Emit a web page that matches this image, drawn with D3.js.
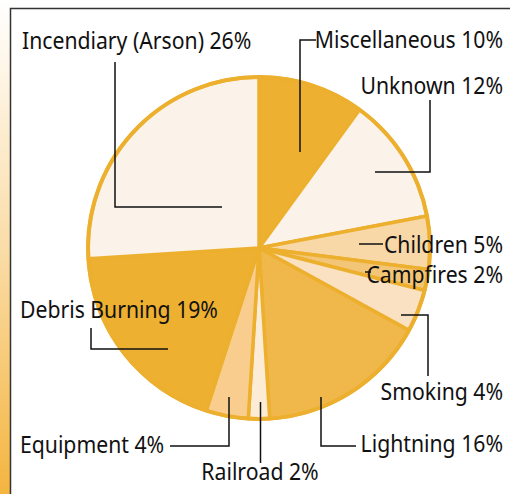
<!DOCTYPE html>
<html><head><meta charset="utf-8">
<script src="https://cdn.jsdelivr.net/npm/d3@7"></script>
<style>body{margin:0;background:#fff;} svg{display:block;}</style>
</head><body>
<svg id="c" width="510" height="494"></svg>
<script>
const categories = ["Miscellaneous","Unknown","Children","Campfires","Smoking","Lightning","Railroad","Equipment","Debris Burning","Incendiary (Arson)"];
const values = [10,12,5,2,4,16,2,4,19,26];
const colors = ["#EEB030","#FBF3E9","#F7D8A6","#F3C677","#F9E1C2","#F0B84A","#FCEBD5","#F8CD8E","#EEB030","#FBF3E9"];
const labels = ["Miscellaneous 10%","Unknown 12%","Children 5%","Campfires 2%","Smoking 4%","Lightning 16%","Railroad 2%","Equipment 4%","Debris Burning 19%","Incendiary (Arson) 26%"];
// label anchor positions and leader paths (layout)
const labelPos = [
  {x:503,y:48,a:"end"},{x:503,y:94,a:"end"},{x:503,y:253,a:"end"},{x:503,y:283,a:"end"},
  {x:503,y:400,a:"end"},{x:503,y:452,a:"end"},{x:260,y:480,a:"middle"},{x:20,y:453,a:"start"},
  {x:20,y:318,a:"start"},{x:22,y:49,a:"start"}];
const leaders = [
  [[316,40],[300,40],[300,152]],
  [[430,100],[430,172],[375,172]],
  [[383,244],[359,244]],
  [[371,272],[365,272]],
  [[401,315],[428,315],[428,376]],
  [[321,397],[321,446],[356,446]],
  [[260.5,402],[260.5,463]],
  [[229,397],[229,446],[170,446]],
  [[91,328],[91,349],[168,349]],
  [[115,62],[115,207],[222,207]]];

const svg = d3.select("#c");
const defs = svg.append("defs");
const g = defs.append("linearGradient").attr("id","lg").attr("x1",0).attr("y1",0).attr("x2",0).attr("y2",1);
g.append("stop").attr("offset",0).attr("stop-color","#FFFFFF");
g.append("stop").attr("offset",0.5).attr("stop-color","#FADDA8");
g.append("stop").attr("offset",1).attr("stop-color","#F4B540");
svg.append("rect").attr("x",0).attr("y",0).attr("width",10).attr("height",494).attr("fill","url(#lg)");
svg.append("rect").attr("x",10.5).attr("y",8.5).attr("width",520).attr("height",520).attr("fill","#fff").attr("stroke","#333").attr("stroke-width",1.5);

const cx = 259, cy = 248, R = 171;
const pie = d3.pie().sort(null).value(d=>d);
const arc = d3.arc().innerRadius(0).outerRadius(R);
const arcs = pie(values);
svg.append("g").attr("transform",`translate(${cx},${cy})`)
  .selectAll("path").data(arcs).join("path")
  .attr("d",arc).attr("fill",(d,i)=>colors[i])
  .attr("stroke","#EDAF2E").attr("stroke-width",3.5).attr("stroke-linejoin","round");
svg.append("circle").attr("cx",cx).attr("cy",cy).attr("r",R).attr("fill","none").attr("stroke","#EDAF2E").attr("stroke-width",4);

const line = d3.line();
svg.append("g").selectAll("path").data(leaders).join("path")
  .attr("d",d=>line(d)).attr("fill","none").attr("stroke","#111").attr("stroke-width",1.5);

svg.append("g").selectAll("text").data(labels).join("text")
  .attr("transform",(d,i)=>`translate(${labelPos[i].x},${labelPos[i].y}) scale(1,1.14)`)
  .attr("text-anchor",(d,i)=>labelPos[i].a)
  .attr("font-family","'Noto Sans', sans-serif").attr("font-size",21.2).attr("fill","#111")
  .text(d=>d);
</script>
</body></html>
